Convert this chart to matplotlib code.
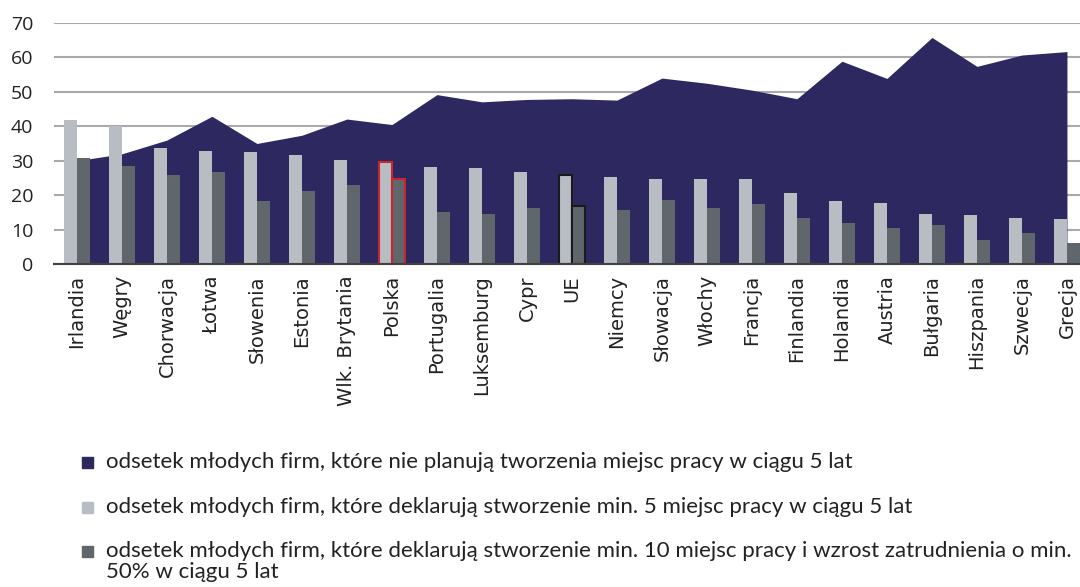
import matplotlib.pyplot as plt
import numpy as np

countries = ["Irlandia", "Węgry", "Chorwacja", "Łotwa", "Słowenia", "Estonia",
             "Wlk. Brytania", "Polska", "Portugalia", "Luksemburg", "Cypr", "UE",
             "Niemcy", "Słowacja", "Włochy", "Francja", "Finlandia", "Holandia",
             "Austria", "Bułgaria", "Hiszpania", "Szwecja", "Grecja"]

# no plans to create jobs within 5 years (area)
no_jobs = [30.0, 32.0, 36.0, 42.9, 35.0, 37.4, 42.1, 40.5, 49.2, 47.1, 47.8, 48.0,
           47.6, 54.0, 52.5, 50.5, 48.0, 58.9, 53.9, 65.8, 57.4, 60.7, 61.7]
# min. 5 jobs within 5 years
min5 = [41.8, 40.0, 33.7, 32.9, 32.6, 31.8, 30.3, 29.5, 28.2, 27.8, 26.8, 25.9,
        25.4, 24.8, 24.6, 24.6, 20.5, 18.2, 17.8, 14.4, 14.2, 13.3, 13.0]
# min. 10 jobs and 50% growth within 5 years
min10 = [30.7, 28.5, 25.9, 26.8, 18.4, 21.3, 22.8, 24.8, 15.0, 14.5, 16.3, 16.9,
         15.6, 18.5, 16.4, 17.5, 13.3, 11.9, 10.4, 11.3, 7.1, 9.0, 6.1]

labels = [
    ["odsetek młodych firm, które nie planują tworzenia miejsc pracy w ciągu 5 lat"],
    ["odsetek młodych firm, które deklarują stworzenie min. 5 miejsc pracy w ciągu 5 lat"],
    ["odsetek młodych firm, które deklarują stworzenie min. 10 miejsc pracy i wzrost zatrudnienia o min.",
     "50% w ciągu 5 lat"],
]

NAVY = "#2e2860"
LIGHT = "#b8bdc3"
DARK = "#5f676c"

fig = plt.figure(figsize=(10.8, 5.87), dpi=100)
ax = fig.add_axes([0.05, 0.5503, 0.95, 0.4105])

x = np.arange(len(countries))
w = 0.29
ax.fill_between(x, no_jobs, 0, color=NAVY, lw=0, zorder=2)
b1 = ax.bar(x - w / 2, min5, w, color=LIGHT, zorder=3)
b2 = ax.bar(x + w / 2, min10, w, color=DARK, zorder=3)

# highlight Polska and UE
for name, col in [("Polska", "#c8262c"), ("UE", "#1a1a1a")]:
    i = countries.index(name)
    for b in (b1[i], b2[i]):
        b.set_edgecolor(col)
        b.set_linewidth(1.5)

ax.set_ylim(0, 70)
ax.set_xlim(-0.51, 22.29)
ax.set_yticks(range(0, 71, 10))
ax.yaxis.grid(True, color="#a9a9ad", lw=1.5, zorder=0)
ax.set_axisbelow(True)
for s in ["top", "right", "left"]:
    ax.spines[s].set_visible(False)
ax.spines["bottom"].set_color("#404040")
ax.spines["bottom"].set_linewidth(1.5)
ax.spines["bottom"].set_zorder(4)
ax.tick_params(axis="y", length=0, pad=15, labelsize=14, labelcolor="#222222")
ax.tick_params(axis="x", length=0, pad=8)
ax.set_xticks(x)
ax.set_xticklabels(countries, rotation=90, fontsize=14, color="#222222")
for t in ax.get_yticklabels():
    t.set_fontfamily("Open Sans")

# legend drawn as text lines below the chart
leg_font = ["Lato", "DejaVu Sans"]
leg_y = [462, 507, 551]
for yy, col, lines in zip(leg_y, [NAVY, LIGHT, DARK], labels):
    fig.patches.append(plt.Rectangle((82 / 1080, 1 - (yy + 6) / 587), 11 / 1080, 11 / 587,
                                     transform=fig.transFigure, color=col, figure=fig))
    for k, line in enumerate(lines):
        fig.text(106 / 1080, 1 - (yy + 21 * k) / 587, line, fontsize=16, family=leg_font,
                 color="#222222", va="center")

fig.savefig("out.png", dpi=100)
